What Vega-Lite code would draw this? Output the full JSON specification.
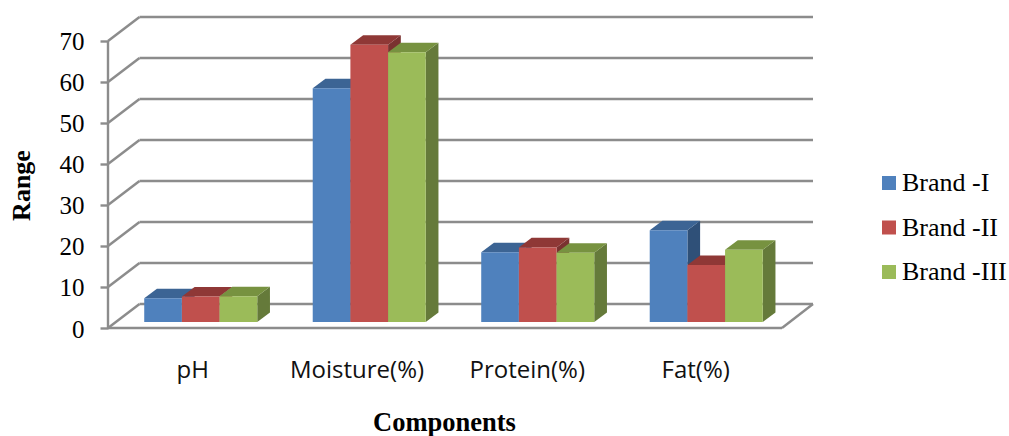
{"$schema":"https://vega.github.io/schema/vega-lite/v6.json","width":705,"height":318,"autosize":{"type":"none"},"padding":{"left":108,"top":10,"right":196,"bottom":108},"background":"white","config":{"view":{"stroke":null}},
"datasets":{
"segments":[
{"x":0,"y":0,"x2":0,"y2":70},{"x":0,"y":0,"x2":4,"y2":0},{"x":4,"y":0,"x2":4.184,"y2":5.85},
{"x":0,"y":0,"x2":0.187,"y2":5.85},{"x":0.187,"y":5.85,"x2":4.184,"y2":5.85},
{"x":0,"y":10,"x2":0.187,"y2":15.85},{"x":0.187,"y":15.85,"x2":4.184,"y2":15.85},
{"x":0,"y":20,"x2":0.187,"y2":25.85},{"x":0.187,"y":25.85,"x2":4.184,"y2":25.85},
{"x":0,"y":30,"x2":0.187,"y2":35.85},{"x":0.187,"y":35.85,"x2":4.184,"y2":35.85},
{"x":0,"y":40,"x2":0.187,"y2":45.85},{"x":0.187,"y":45.85,"x2":4.184,"y2":45.85},
{"x":0,"y":50,"x2":0.187,"y2":55.85},{"x":0.187,"y":55.85,"x2":4.184,"y2":55.85},
{"x":0,"y":60,"x2":0.187,"y2":65.85},{"x":0.187,"y":65.85,"x2":4.184,"y2":65.85},
{"x":0,"y":70,"x2":0.187,"y2":75.85},{"x":0.187,"y":75.85,"x2":4.184,"y2":75.85}],
"bars":[
{"Component":"pH","Brand":"Brand -I","Value":5.8,"start":0.215,"end":0.4386},
{"Component":"pH","Brand":"Brand -II","Value":6.2,"start":0.4386,"end":0.6622},
{"Component":"pH","Brand":"Brand -III","Value":6.3,"start":0.6622,"end":0.8858},
{"Component":"Moisture(%)","Brand":"Brand -I","Value":57,"start":1.215,"end":1.4386},
{"Component":"Moisture(%)","Brand":"Brand -II","Value":67.6,"start":1.4386,"end":1.6622},
{"Component":"Moisture(%)","Brand":"Brand -III","Value":65.8,"start":1.6622,"end":1.8858},
{"Component":"Protein(%)","Brand":"Brand -I","Value":17,"start":2.215,"end":2.4386},
{"Component":"Protein(%)","Brand":"Brand -II","Value":18.2,"start":2.4386,"end":2.6622},
{"Component":"Protein(%)","Brand":"Brand -III","Value":16.9,"start":2.6622,"end":2.8858},
{"Component":"Fat(%)","Brand":"Brand -I","Value":22.4,"start":3.215,"end":3.4386},
{"Component":"Fat(%)","Brand":"Brand -II","Value":13.9,"start":3.4386,"end":3.6622},
{"Component":"Fat(%)","Brand":"Brand -III","Value":17.6,"start":3.6622,"end":3.8858}],
"sides":[
{"id":"p1","Brand":"Brand -I","x":0.4386,"low":0,"high":5.8},{"id":"p1","Brand":"Brand -I","x":0.514,"low":2.32,"high":8.12},
{"id":"p2","Brand":"Brand -II","x":0.6622,"low":0,"high":6.2},{"id":"p2","Brand":"Brand -II","x":0.7376,"low":2.32,"high":8.52},
{"id":"p3","Brand":"Brand -III","x":0.8858,"low":0,"high":6.3},{"id":"p3","Brand":"Brand -III","x":0.9612,"low":2.32,"high":8.62},
{"id":"m1","Brand":"Brand -I","x":1.4386,"low":0,"high":57},{"id":"m1","Brand":"Brand -I","x":1.514,"low":2.32,"high":59.32},
{"id":"m2","Brand":"Brand -II","x":1.6622,"low":0,"high":67.6},{"id":"m2","Brand":"Brand -II","x":1.7376,"low":2.32,"high":69.92},
{"id":"m3","Brand":"Brand -III","x":1.8858,"low":0,"high":65.8},{"id":"m3","Brand":"Brand -III","x":1.9612,"low":2.32,"high":68.12},
{"id":"r1","Brand":"Brand -I","x":2.4386,"low":0,"high":17},{"id":"r1","Brand":"Brand -I","x":2.514,"low":2.32,"high":19.32},
{"id":"r2","Brand":"Brand -II","x":2.6622,"low":0,"high":18.2},{"id":"r2","Brand":"Brand -II","x":2.7376,"low":2.32,"high":20.52},
{"id":"r3","Brand":"Brand -III","x":2.8858,"low":0,"high":16.9},{"id":"r3","Brand":"Brand -III","x":2.9612,"low":2.32,"high":19.22},
{"id":"f1","Brand":"Brand -I","x":3.4386,"low":0,"high":22.4},{"id":"f1","Brand":"Brand -I","x":3.514,"low":2.32,"high":24.72},
{"id":"f2","Brand":"Brand -II","x":3.6622,"low":0,"high":13.9},{"id":"f2","Brand":"Brand -II","x":3.7376,"low":2.32,"high":16.22},
{"id":"f3","Brand":"Brand -III","x":3.8858,"low":0,"high":17.6},{"id":"f3","Brand":"Brand -III","x":3.9612,"low":2.32,"high":19.92}],
"tops":[
{"id":"p1","Brand":"Brand -I","y":5.8,"x":0.215,"x2":0.4386},{"id":"p1","Brand":"Brand -I","y":8.12,"x":0.2904,"x2":0.514},
{"id":"p2","Brand":"Brand -II","y":6.2,"x":0.4386,"x2":0.6622},{"id":"p2","Brand":"Brand -II","y":8.52,"x":0.514,"x2":0.7376},
{"id":"p3","Brand":"Brand -III","y":6.3,"x":0.6622,"x2":0.8858},{"id":"p3","Brand":"Brand -III","y":8.62,"x":0.7376,"x2":0.9612},
{"id":"m1","Brand":"Brand -I","y":57,"x":1.215,"x2":1.4386},{"id":"m1","Brand":"Brand -I","y":59.32,"x":1.2904,"x2":1.514},
{"id":"m2","Brand":"Brand -II","y":67.6,"x":1.4386,"x2":1.6622},{"id":"m2","Brand":"Brand -II","y":69.92,"x":1.514,"x2":1.7376},
{"id":"m3","Brand":"Brand -III","y":65.8,"x":1.6622,"x2":1.8858},{"id":"m3","Brand":"Brand -III","y":68.12,"x":1.7376,"x2":1.9612},
{"id":"r1","Brand":"Brand -I","y":17,"x":2.215,"x2":2.4386},{"id":"r1","Brand":"Brand -I","y":19.32,"x":2.2904,"x2":2.514},
{"id":"r2","Brand":"Brand -II","y":18.2,"x":2.4386,"x2":2.6622},{"id":"r2","Brand":"Brand -II","y":20.52,"x":2.514,"x2":2.7376},
{"id":"r3","Brand":"Brand -III","y":16.9,"x":2.6622,"x2":2.8858},{"id":"r3","Brand":"Brand -III","y":19.22,"x":2.7376,"x2":2.9612},
{"id":"f1","Brand":"Brand -I","y":22.4,"x":3.215,"x2":3.4386},{"id":"f1","Brand":"Brand -I","y":24.72,"x":3.2904,"x2":3.514},
{"id":"f2","Brand":"Brand -II","y":13.9,"x":3.4386,"x2":3.6622},{"id":"f2","Brand":"Brand -II","y":16.22,"x":3.514,"x2":3.7376},
{"id":"f3","Brand":"Brand -III","y":17.6,"x":3.6622,"x2":3.8858},{"id":"f3","Brand":"Brand -III","y":19.92,"x":3.7376,"x2":3.9612}]
},
"data":{"name":"segments"},
"resolve":{"scale":{"color":"independent"}},
"layer":[
{"mark":{"type":"rule","color":"#8c8c8c","strokeWidth":2.4},
"encoding":{
"x":{"field":"x","type":"quantitative","scale":{"domain":[0,4.184],"nice":false,"zero":false},
"axis":{"values":[0.5,1.475,2.485,3.485],"labelExpr":"datum.value==0.5?'pH':datum.value==1.475?'Moisture(%)':datum.value==2.485?'Protein(%)':'Fat(%)'","grid":false,"domain":false,"ticks":false,"labelPadding":30,"labelFont":"Open Sans","labelFontSize":24,"labelColor":"#111111","title":"Components","titleFont":"Liberation Serif","titleFontWeight":"bold","titleFontSize":26.5,"titleColor":"#000000","titleAnchor":"start","titleAlign":"center","titleX":336,"titleY":108.5,"titleBaseline":"bottom"}},
"y":{"field":"y","type":"quantitative","scale":{"domain":[0,77.56],"nice":false,"zero":false},
"axis":{"values":[0,10,20,30,40,50,60,70],"grid":false,"domain":false,"tickColor":"#8c8c8c","tickWidth":2.4,"tickSize":8,"labelPadding":16,"labelOffset":1,"labelFont":"Liberation Serif","labelFontSize":25,"labelColor":"#000000","title":"Range","titleFont":"Liberation Serif","titleFontWeight":"bold","titleFontSize":26,"titleColor":"#000000","titleAlign":"center","titleAngle":-90,"titleX":-74,"titleY":175}},
"x2":{"field":"x2"},"y2":{"field":"y2"}}},
{"data":{"name":"sides"},"mark":{"type":"area","yOffset":-6,"y2Offset":-6},
"encoding":{"x":{"field":"x","type":"quantitative"},"y":{"field":"low","type":"quantitative"},"y2":{"field":"high"},"detail":{"field":"id"},
"color":{"field":"Brand","type":"nominal","legend":null,"scale":{"domain":["Brand -I","Brand -II","Brand -III"],"range":["#2F5078","#7A3230","#657A3A"]}}}},
{"data":{"name":"tops"},"mark":{"type":"area","orient":"horizontal","yOffset":-6,"y2Offset":-6},
"encoding":{"y":{"field":"y","type":"quantitative"},"x":{"field":"x","type":"quantitative"},"x2":{"field":"x2"},"detail":{"field":"id"},
"color":{"field":"Brand","type":"nominal","legend":null,"scale":{"domain":["Brand -I","Brand -II","Brand -III"],"range":["#3C6494","#8F3836","#779240"]}}}},
{"data":{"name":"bars"},"mark":{"type":"rect","yOffset":-6,"y2Offset":-6},
"encoding":{"x":{"field":"start","type":"quantitative"},"x2":{"field":"end"},"y":{"field":"Value","type":"quantitative"},"y2":{"datum":0},
"color":{"field":"Brand","type":"nominal","scale":{"domain":["Brand -I","Brand -II","Brand -III"],"range":["#4F81BD","#C0504D","#9BBB59"]},
"legend":{"title":null,"orient":"none","legendX":768,"legendY":160,"padding":0,"symbolType":"square","symbolSize":196,"symbolStrokeWidth":0,"labelFont":"Liberation Serif","labelFontSize":26,"labelColor":"#000000","labelOffset":0,"labelLimit":200,"rowPadding":18.5}}}}
]}
